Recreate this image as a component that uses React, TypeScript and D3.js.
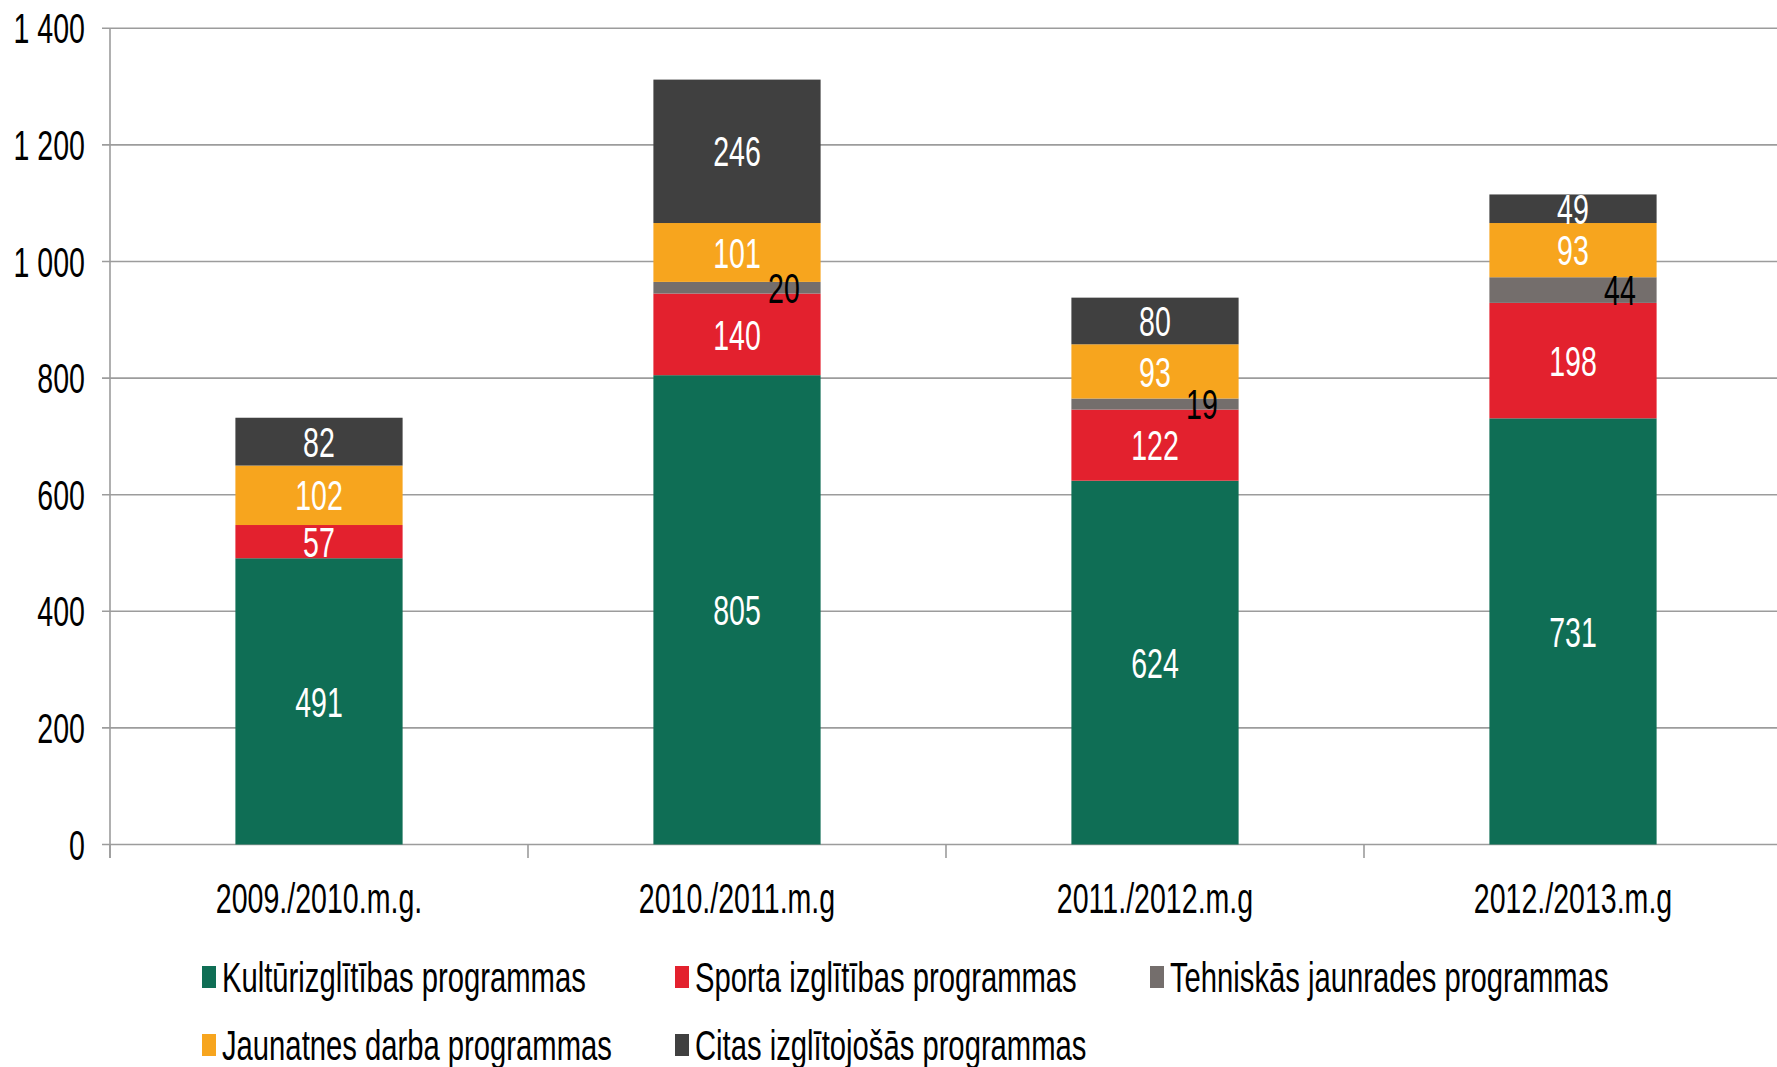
import React from "react";
import * as d3 from "d3";

// Chart data
const categories = ["2009./2010.m.g.", "2010./2011.m.g", "2011./2012.m.g", "2012./2013.m.g"];
const seriesNames = [
  "Kultūrizglītības programmas",
  "Sporta izglītības programmas",
  "Tehniskās jaunrades programmas",
  "Jaunatnes darba programmas",
  "Citas izglītojošās programmas",
];
const kultur = [491, 805, 624, 731];
const sporta = [57, 140, 122, 198];
const tehn = [0, 20, 19, 44];
const jaunatnes = [102, 101, 93, 93];
const citas = [82, 246, 80, 49];
const yTicks = [0, 200, 400, 600, 800, 1000, 1200, 1400];

const colors = ["#0f6e55", "#e3212e", "#746e6c", "#f7a51e", "#404040"];
const labelColors = ["#fff", "#fff", "#000", "#fff", "#fff"];

const W = 1777;
const H = 1067;
const FONT = "'Liberation Sans', Arial, sans-serif";
const SX = 0.68; // horizontally squeezed text, like the source image

const fmt = d3.formatLocale({ decimal: ",", thousands: " ", grouping: [3], currency: ["", ""] }).format(",d");

// text squeezed along x
function Txt({ x, y, anchor = "middle", size = 42, fill = "#000", children }: any) {
  return (
    <g transform={`translate(${x},${y}) scale(${SX},1)`}>
      <text textAnchor={anchor} dy="0.36em" fontFamily={FONT} fontSize={size} fill={fill}>
        {children}
      </text>
    </g>
  );
}

export default function App() {
  const left = 110;
  const step = 418;
  const x = d3.scaleBand<string>()
    .domain(categories)
    .range([left, left + step * categories.length])
    .paddingInner(0.6)
    .paddingOuter(0.3);
  const y = d3.scaleLinear().domain([0, 1400]).range([844.5, 28.3]);

  const rows = categories.map((c, i) => ({
    cat: c,
    s0: kultur[i], s1: sporta[i], s2: tehn[i], s3: jaunatnes[i], s4: citas[i],
  }));
  const stacked = d3.stack<any>().keys(["s0", "s1", "s2", "s3", "s4"])(rows);

  const legendPos = [
    [202, 977], [675, 977], [1150, 977],
    [202, 1045], [675, 1045],
  ];

  return (
    <svg width={W} height={H} style={{ position: "absolute", left: 0, top: 0, background: "#fff" }}>
      {/* gridlines */}
      {yTicks.map(t => (
        <g key={t}>
          <line x1={left - 8} x2={W} y1={y(t)} y2={y(t)} stroke="#9c9c9c" strokeWidth={1.6} />
          <Txt x={85} y={y(t)} anchor="end">{fmt(t)}</Txt>
        </g>
      ))}
      {/* y axis */}
      <line x1={left} x2={left} y1={y(1400)} y2={858} stroke="#9c9c9c" strokeWidth={1.6} />
      {/* category ticks */}
      {d3.range(categories.length + 1).map(i => (
        <line key={i} x1={left + i * step} x2={left + i * step} y1={y(0)} y2={858} stroke="#9c9c9c" strokeWidth={1.6} />
      ))}
      {/* bars */}
      {stacked.map((layer, si) => (
        <g key={si} fill={colors[si]}>
          {layer.map((d: any, i) => {
            const v = d[1] - d[0];
            if (v <= 0) return null;
            return (
              <rect key={i} x={x(categories[i])} width={x.bandwidth()} y={y(d[1])} height={y(d[0]) - y(d[1])} />
            );
          })}
        </g>
      ))}
      {/* data labels */}
      {stacked.map((layer, si) =>
        layer.map((d: any, i) => {
          const v = d[1] - d[0];
          if (v <= 0) return null;
          const cx = (x(categories[i]) as number) + x.bandwidth() / 2 + (si === 2 ? 47 : 0);
          return (
            <Txt key={`${si}-${i}`} x={cx} y={y((d[0] + d[1]) / 2)} fill={labelColors[si]}>
              {v}
            </Txt>
          );
        })
      )}
      {/* x labels */}
      {categories.map(c => (
        <Txt key={c} x={(x(c) as number) + x.bandwidth() / 2} y={898}>{c}</Txt>
      ))}
      {/* legend */}
      {seriesNames.map((n, i) => (
        <g key={n}>
          <rect x={legendPos[i][0]} y={legendPos[i][1] - 11} width={14} height={22} fill={colors[i]} />
          <Txt x={legendPos[i][0] + 20} y={legendPos[i][1]} anchor="start" size={43}>{n}</Txt>
        </g>
      ))}
    </svg>
  );
}
